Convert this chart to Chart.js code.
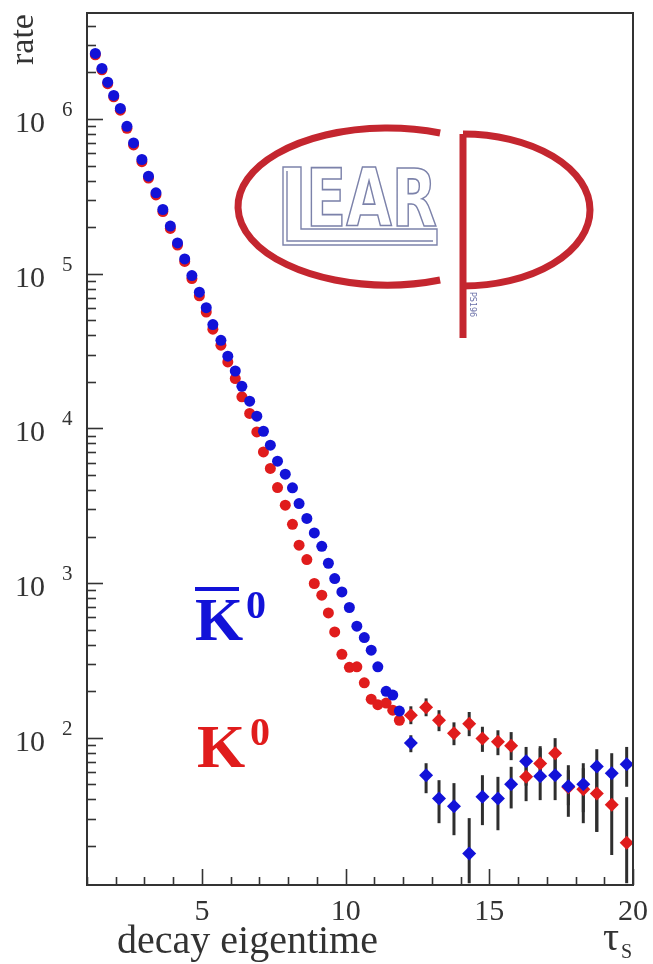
<!DOCTYPE html>
<html>
<head>
<meta charset="utf-8">
<title>K0 / K0bar decay rate</title>
<script src="https://cdn.jsdelivr.net/npm/chart.js@4.4.1/dist/chart.umd.min.js"></script>
<style>
    html, body { margin: 0; padding: 0; background: #fff; }
    #chart { display: block; }
</style>
</head>
<body>
<canvas id="chart" width="653" height="964"></canvas>
<script>
// decay eigentime (units of tau_S), fine bins
const timeFine = [1.29, 1.52, 1.72, 1.93, 2.16, 2.39, 2.62, 2.91, 3.14, 3.40, 3.64, 3.90, 4.15, 4.40, 4.65,
    4.91, 5.15, 5.38, 5.66, 5.90, 6.16, 6.39, 6.66, 6.91, 7.14, 7.38, 7.63, 7.90, 8.15, 8.38, 8.65, 8.91,
    9.17, 9.40, 9.62, 9.87, 10.13, 10.39, 10.65, 10.89, 11.12, 11.41, 11.64, 11.87]
const kbarFine = [2.65e6, 2.12e6, 1.73e6, 1.42e6, 1.17e6, 8.97e5, 7.0e5, 5.47e5, 4.27e5, 3.33e5, 2.60e5,
    2.03e5, 1.58e5, 1.245e5, 9.73e4, 7.59e4, 6.03e4, 4.69e4, 3.71e4, 2.93e4, 2.35e4, 1.87e4, 1.50e4, 1.20e4,
    9590, 7790, 6140, 5060, 4130, 3270, 2620, 2110, 1730, 1345, 1070, 878, 696, 527, 445, 369, 288, 200, 189, 149]
const kFine = [2.6e6, 2.08e6, 1.69e6, 1.39e6, 1.14e6, 8.7e5, 6.8e5, 5.3e5, 4.15e5, 3.23e5, 2.52e5,
    1.96e5, 1.53e5, 1.2e5, 9.3e4, 7.2e4, 5.65e4, 4.38e4, 3.45e4, 2.69e4, 2.10e4, 1.60e4, 1.25e4, 9490,
    7050, 5510, 4150, 3190, 2400, 1760, 1420, 995, 836, 642, 484, 347, 286, 288, 227, 178, 164, 168, 151, 130]

// coarse bins with error bars
const timeTail = [12.27, 12.8, 13.25, 13.77, 14.3, 14.76, 15.3, 15.76, 16.28, 16.77, 17.29, 17.75, 18.27, 18.74, 19.26, 19.78]
const kbarTail = [92.8, 57.4, 40.6, 36.2, 17.9, 41.6, 40.6, 50.2, 70.7, 56.6, 57.4, 48.7, 50.2, 65.3, 59.1, 67.6]
const kbarTailLo = [80.8, 43.9, 28.1, 23.5, 11.5, 27.3, 25.3, 35.0, 49.1, 39.6, 39.6, 30.9, 28.1, 24.7, 39.6, 48.3]
const kbarTailHi = [104, 68.6, 53.3, 51.0, 30.3, 57.4, 56.0, 65.0, 87.4, 88.4, 80.8, 66.6, 68.6, 84.5, 79.6, 87.4]
const kTail = [140, 158, 130, 107, 123.5, 99.1, 94.5, 89.0, 56.1, 68.3, 79.6, 48.0, 46.6, 43.7, 37.0, 21.0]
const kTailLo = [122.6, 138, 110.5, 89.7, 102.6, 81.2, 77.3, 71.8, 39.0, 53.3, 61.8, 36.7, 33.1, 24.7, 17.5, 11.5]
const kTailHi = [160, 180, 151, 126, 147, 118, 112, 109, 66.6, 85.8, 99.6, 61.8, 63.7, 61.8, 55, 41.4]

// axes
const xRange = [1, 20]
const yRange = [11.2, 4.84e6]
const xMajorTicks = [5, 10, 15, 20]
const yDecades = [2, 3, 4, 5, 6]

const blue = '#1212d8'
const red = '#e01c1c'
const axisColor = '#333'
const serif = '"Liberation Serif", "DejaVu Serif", serif'

const toPoints = (xs, ys) => xs.map((t, i) => ({ x: t, y: ys[i] }))

// vertical error bars behind the markers
const errorBars = {
    id: 'errorBars',
    beforeDatasetsDraw(chart) {
        const { ctx, chartArea: a, scales: { x, y } } = chart
        ctx.save()
        ctx.beginPath()
        ctx.rect(a.left, a.top, a.right - a.left, a.bottom - a.top)
        ctx.clip()
        ctx.strokeStyle = '#2e2e2e'
        ctx.lineWidth = 3
        const draw = (lo, hi) => timeTail.forEach((t, i) => {
            const px = x.getPixelForValue(t)
            ctx.beginPath()
            ctx.moveTo(px, y.getPixelForValue(lo[i]))
            ctx.lineTo(px, y.getPixelForValue(hi[i]))
            ctx.stroke()
        })
        draw(kTailLo, kTailHi)
        draw(kbarTailLo, kbarTailHi)
        ctx.restore()
    }
}

// ROOT style frame, inward ticks and labels
const rootAxes = {
    id: 'rootAxes',
    afterDraw(chart) {
        const { ctx, chartArea: a, scales: { x, y } } = chart
        ctx.save()
        ctx.strokeStyle = axisColor
        ctx.lineWidth = 2
        ctx.strokeRect(a.left, a.top, a.right - a.left, a.bottom - a.top)

        ctx.lineWidth = 1.6
        for (let e = 1; e <= 6; e++) {
            for (let k = 1; k <= 9; k++) {
                const v = k * Math.pow(10, e)
                if (v < y.min || v > y.max) continue
                const py = Math.round(y.getPixelForValue(v)) + 0.5
                ctx.beginPath()
                ctx.moveTo(a.left, py)
                ctx.lineTo(a.left + (k === 1 ? 16 : 9), py)
                ctx.stroke()
            }
        }
        for (let t = Math.ceil(x.min); t <= x.max; t++) {
            const px = Math.round(x.getPixelForValue(t)) + 0.5
            ctx.beginPath()
            ctx.moveTo(px, a.bottom)
            ctx.lineTo(px, a.bottom - (xMajorTicks.includes(t) ? 16 : 8))
            ctx.stroke()
        }

        ctx.fillStyle = axisColor
        ctx.textBaseline = 'alphabetic'
        yDecades.forEach(e => {
            const py = y.getPixelForValue(Math.pow(10, e))
            ctx.font = '30px ' + serif
            ctx.textAlign = 'right'
            ctx.fillText('10', 45, py + 13)
            ctx.font = '21px ' + serif
            ctx.textAlign = 'left'
            ctx.fillText(String(e), 62, py - 3)
        })
        ctx.font = '30px ' + serif
        ctx.textAlign = 'center'
        xMajorTicks.forEach(t => ctx.fillText(String(t), x.getPixelForValue(t), 920))

        ctx.textAlign = 'left'
        ctx.font = '40px ' + serif
        ctx.fillText('decay eigentime', 117, 953)
        ctx.fillText('\u03c4', 603, 950)
        ctx.font = '20px ' + serif
        ctx.fillText('S', 621, 958)

        ctx.save()
        ctx.translate(33, 65)
        ctx.rotate(-Math.PI / 2)
        ctx.font = '34px ' + serif
        ctx.fillText('rate', 0, 0)
        ctx.restore()

        // particle labels
        ctx.fillStyle = blue
        ctx.font = 'bold 62px ' + serif
        ctx.fillText('K', 195, 640)
        ctx.fillRect(195, 587, 44, 4)
        ctx.font = 'bold 40px ' + serif
        ctx.fillText('0', 246, 618)
        ctx.fillStyle = red
        ctx.font = 'bold 62px ' + serif
        ctx.fillText('K', 197, 767)
        ctx.font = 'bold 40px ' + serif
        ctx.fillText('0', 250, 745)
        ctx.restore()
    }
}

// LEAR / CPLEAR logo
const learLogo = {
    id: 'learLogo',
    afterDraw(chart) {
        const ctx = chart.ctx
        ctx.save()
        ctx.strokeStyle = '#c4262f'
        ctx.lineWidth = 7
        const th = Math.acos(0.352)
        ctx.beginPath()
        ctx.ellipse(387.5, 206.5, 149.5, 78.5, 0, -th, th, true)
        ctx.stroke()
        ctx.beginPath()
        ctx.moveTo(463, 134)
        ctx.lineTo(463, 338)
        ctx.stroke()
        ctx.beginPath()
        ctx.ellipse(463, 210, 127, 76, 0, -Math.PI / 2, Math.PI / 2)
        ctx.stroke()

        // outlined L with a long foot, then the other letters
        ctx.strokeStyle = '#7c82aa'
        ctx.lineWidth = 1.4
        ctx.beginPath()
        ctx.moveTo(283, 167)
        ctx.lineTo(301, 167)
        ctx.lineTo(301, 229)
        ctx.lineTo(437, 229)
        ctx.lineTo(437, 245)
        ctx.lineTo(283, 245)
        ctx.closePath()
        ctx.stroke()
        ctx.beginPath()
        ctx.moveTo(287, 171)
        ctx.lineTo(287, 241)
        ctx.lineTo(433, 241)
        ctx.stroke()
        ctx.font = 'bold 82px "Liberation Sans Narrow", "DejaVu Sans Condensed", sans-serif'
        const w = ctx.measureText('EAR').width
        ctx.save()
        ctx.translate(306, 226)
        ctx.scale(131 / w, 0.97)
        ctx.lineWidth = 1.4 * w / 131
        ctx.strokeText('EAR', 0, 0)
        ctx.restore()

        ctx.save()
        ctx.translate(470, 292)
        ctx.rotate(Math.PI / 2)
        ctx.fillStyle = '#6a70a8'
        ctx.font = '8px "DejaVu Sans", sans-serif'
        ctx.fillText('PS196', 0, 0)
        ctx.restore()
        ctx.restore()
    }
}

new Chart(document.getElementById('chart'), {
    type: 'scatter',
    data: {
        datasets: [
            { label: 'K0bar', data: toPoints(timeFine, kbarFine), backgroundColor: blue, pointStyle: 'circle', pointRadius: 5.5, borderWidth: 0 },
            { label: 'K0bar tail', data: toPoints(timeTail, kbarTail), backgroundColor: blue, pointStyle: 'rectRot', pointRadius: 7, borderWidth: 0 },
            { label: 'K0', data: toPoints(timeFine, kFine), backgroundColor: red, pointStyle: 'circle', pointRadius: 5.5, borderWidth: 0 },
            { label: 'K0 tail', data: toPoints(timeTail, kTail), backgroundColor: red, pointStyle: 'rectRot', pointRadius: 7, borderWidth: 0 }
        ]
    },
    options: {
        responsive: false,
        animation: false,
        devicePixelRatio: 1,
        layout: { padding: { left: 87, right: 20, top: 13, bottom: 79 } },
        plugins: { legend: { display: false }, tooltip: { enabled: false } },
        elements: { point: { hoverRadius: 5.5 } },
        scales: {
            x: { type: 'linear', min: xRange[0], max: xRange[1], display: false },
            y: { type: 'logarithmic', min: yRange[0], max: yRange[1], display: false }
        }
    },
    plugins: [errorBars, rootAxes, learLogo]
})
</script>
</body>
</html>
